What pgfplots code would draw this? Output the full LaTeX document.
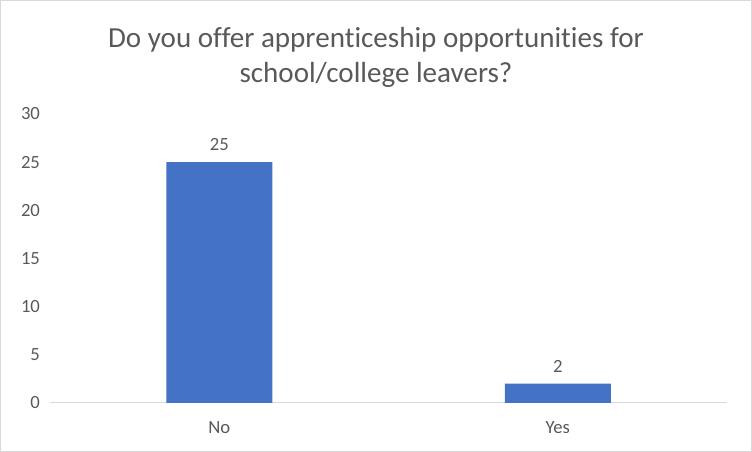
\documentclass[border=0pt]{standalone}
\usepackage{pgfplots}
\pgfplotsset{compat=1.18}
\usepackage{fontspec}
\setmainfont{Carlito}[Ligatures=NoCommon]
\definecolor{barblue}{HTML}{4472C4}
\definecolor{txtgray}{HTML}{595959}
\definecolor{linegray}{HTML}{D9D9D9}
\begin{document}
\begin{tikzpicture}
\begin{axis}[
    at={(37.5pt,36.75pt)},
    anchor=south west,
    scale only axis,
    width=507.75pt,
    height=216.75pt,
    ybar,
    bar width=79.5pt,
    xmin=-0.5, xmax=1.5,
    ymin=0, ymax=30,
    xtick={0,1},
    xticklabels={No,Yes},
    ytick={0,5,...,30},
    axis y line*=left,
    y axis line style={draw=none},
    axis x line*=bottom,
    x axis line style={linegray, line width=0.75pt, -},
    major tick length=0pt,
    ticklabel style={font=\fontsize{14}{16}\selectfont, text=txtgray},
    /pgf/number format/assume math mode=true,
    xticklabel style={yshift=-10pt},
    yticklabel style={xshift=-4pt},
    nodes near coords,
    every node near coord/.append style={font=\fontsize{14}{16}\selectfont, text=txtgray, yshift=5pt},
    clip=false,
]
\addplot[fill=barblue, draw=none] coordinates {(0,25) (1,2)};
\end{axis}
\node[text=txtgray, font=\fontsize{21.8}{26.25}\selectfont, align=center] at (282pt,296pt)
    {Do you offer apprenticeship opportunities for\\school/college leavers?};
\draw[linegray, line width=0.75pt] (0.375pt,0.375pt) rectangle (563.625pt,338.625pt);
\end{tikzpicture}
\end{document}
